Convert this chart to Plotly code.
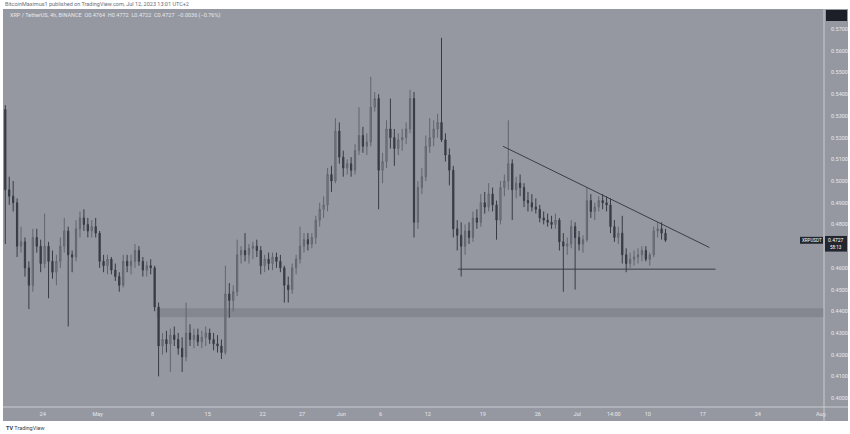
import pandas as pd
import plotly.graph_objects as go

# ---------------- data (12h candles) ----------------
candle_start = "2023-04-19 06:00"
first_open = 0.533
highs = [
    .535, .502, .500, .492, .479, .474, .463, .478, .478, .473,
    .485, .472, .468, .466, .474, .483, .479, .468, .482, .486,
    .487, .483, .482, .483, .477, .466, .466, .465, .462, .458,
    .466, .466, .466, .471, .470, .465, .463, .464, .461, .444,
    .430, .431, .432, .433, .430, .428, .444, .434, .432, .432,
    .431, .433, .432, .430, .429, .427, .461, .453, .452, .473,
    .470, .476, .471, .472, .473, .470, .466, .467, .467, .467,
    .466, .461, .456, .462, .466, .479, .476, .476, .476, .484,
    .490, .493, .506, .507, .529, .527, .514, .510, .511, .517,
    .534, .525, .522, .548, .541, .540, .513, .528, .538, .524,
    .522, .524, .527, .542, .541, .500, .506, .521, .529, .528,
    .531, .566, .522, .515, .507, .482, .481, .480, .481, .486,
    .487, .494, .495, .499, .497, .491, .500, .503, .528, .510,
    .502, .503, .499, .495, .494, .492, .489, .486, .485, .484,
    .485, .483, .476, .474, .482, .481, .477, .475, .497, .494,
    .490, .493, .494, .493, .492, .482, .479, .484, .469, .467,
    .468, .469, .470, .470, .467, .479, .481, .481, .478,
]
lows = [
    .471, .489, .486, .465, .467, .456, .441, .449, .467, .458,
    .460, .446, .455, .452, .460, .467, .433, .458, .463, .474,
    .477, .474, .474, .474, .460, .458, .457, .457, .454, .449,
    .451, .458, .457, .460, .461, .456, .456, .457, .440, .410,
    .420, .421, .412, .424, .420, .412, .417, .424, .423, .424,
    .423, .424, .425, .422, .421, .418, .420, .437, .440, .447,
    .462, .463, .462, .464, .465, .457, .458, .459, .459, .460,
    .458, .444, .444, .448, .457, .462, .467, .468, .469, .471,
    .479, .483, .486, .495, .499, .508, .502, .503, .502, .503,
    .512, .513, .512, .516, .532, .487, .499, .506, .515, .507,
    .512, .514, .517, .522, .474, .478, .494, .500, .513, .516,
    .520, .518, .509, .498, .474, .468, .456, .466, .471, .472,
    .478, .479, .485, .486, .486, .473, .480, .493, .496, .482,
    .492, .493, .488, .486, .486, .485, .481, .480, .479, .478,
    .478, .468, .449, .466, .469, .450, .468, .467, .472, .483,
    .482, .486, .487, .486, .476, .472, .471, .462, .458, .460,
    .461, .462, .463, .463, .461, .465, .474, .473, .472,
]
closes = [
    .496, .493, .490, .470, .472, .460, .452, .474, .470, .462,
    .470, .463, .458, .463, .470, .477, .466, .465, .478, .483,
    .480, .477, .479, .476, .463, .461, .464, .459, .456, .452,
    .463, .461, .463, .468, .463, .459, .461, .460, .442, .424,
    .427, .425, .429, .427, .423, .419, .430, .427, .429, .426,
    .428, .430, .427, .425, .424, .421, .448, .445, .449, .466,
    .468, .466, .469, .470, .468, .461, .464, .462, .465, .463,
    .460, .452, .450, .460, .464, .470, .473, .471, .474, .482,
    .487, .489, .503, .500, .523, .511, .506, .508, .505, .514,
    .521, .516, .518, .534, .538, .505, .509, .524, .520, .515,
    .519, .520, .524, .538, .481, .497, .502, .516, .520, .524,
    .527, .519, .512, .505, .478, .475, .470, .477, .474, .483,
    .481, .490, .488, .494, .489, .482, .497, .500, .508, .496,
    .499, .497, .491, .490, .488, .487, .483, .482, .481, .480,
    .482, .472, .470, .471, .479, .474, .471, .473, .491, .486,
    .488, .491, .490, .489, .479, .474, .476, .466, .462, .464,
    .465, .466, .468, .464, .466, .477, .478, .476, .4727,
]

# drawings on the chart
res_dates = ["2023-06-21 14:00", "2023-07-17 20:00"]
res_prices = [0.5160, 0.4694]
sup_dates = ["2023-06-15 20:00", "2023-07-18 15:00"]
sup_prices = [0.4594, 0.4594]
zone_start = "2023-05-08 12:00"
zone_low, zone_high = 0.4373, 0.4414
last_price = 0.4727

# axis ticks
x_range = ["2023-04-19 02:00", "2023-08-01 10:00"]
y_range = [0.3959, 0.5788]
tick_dates = ["2023-04-24", "2023-05-01", "2023-05-08", "2023-05-15", "2023-05-22",
              "2023-05-27", "2023-06-01", "2023-06-06", "2023-06-12", "2023-06-19",
              "2023-06-26", "2023-07-01", "2023-07-05 16:00", "2023-07-10",
              "2023-07-17", "2023-07-24", "2023-08-01"]
tick_text = ["24", "May", "8", "15", "22", "27", "Jun", "6", "12", "19", "26",
             "Jul", "14:00", "10", "17", "24", "Aug"]
price_ticks = [0.40, 0.41, 0.42, 0.43, 0.44, 0.45, 0.46, 0.48, 0.49,
               0.50, 0.51, 0.52, 0.53, 0.54, 0.55, 0.56, 0.57]

# ---------------- figure ----------------
opens = [first_open] + closes[:-1]
times = pd.date_range(candle_start, periods=len(closes), freq="12h")

BG = "#9598a1"
TXT = "#e6e8ed"
W, H = 850, 434
ML, MR, MT, MB = 4, 26, 10, 27
PW, PH = W - ML - MR, H - MT - MB


def px(x):
    return (x - ML) / PW


def py(y):
    return (H - MB - y) / PH


fig = go.Figure()
fig.add_trace(go.Candlestick(
    x=times, open=opens, high=highs, low=lows, close=closes,
    increasing=dict(line=dict(color="#62656e", width=1), fillcolor="#7e818a"),
    decreasing=dict(line=dict(color="#383b43", width=1), fillcolor="#383b43"),
    whiskerwidth=0, hoverinfo="skip", showlegend=False,
))
fig.add_trace(go.Scatter(x=res_dates, y=res_prices, mode="lines",
                         line=dict(color="#3a3d45", width=1), hoverinfo="skip",
                         showlegend=False))
fig.add_trace(go.Scatter(x=sup_dates, y=sup_prices, mode="lines",
                         line=dict(color="#3a3d45", width=1), hoverinfo="skip",
                         showlegend=False))

shapes = [
    # whole chart panel
    dict(type="rect", xref="paper", yref="paper", x0=px(3), x1=px(848), y0=py(421), y1=py(9),
         fillcolor=BG, line=dict(width=0), layer="below"),
    # support / resistance zone
    dict(type="rect", xref="x", yref="y", x0=zone_start, x1=x_range[1], y0=zone_low, y1=zone_high,
         fillcolor="#84878f", line=dict(width=0), layer="below"),
    # axis separators
    dict(type="line", xref="paper", yref="paper", x0=px(824), x1=px(824), y0=py(421), y1=py(9),
         line=dict(color="#c9cbd1", width=1)),
    dict(type="line", xref="paper", yref="paper", x0=px(3), x1=px(848), y0=py(407), y1=py(407),
         line=dict(color="#c9cbd1", width=1)),
    # top-right dark box
    dict(type="rect", xref="paper", yref="paper", x0=px(826), x1=px(847), y0=py(21), y1=py(10),
         fillcolor="#1c1f27", line=dict(width=0)),
    # symbol label box
    dict(type="rect", xref="paper", yref="y", x0=px(800), x1=px(823),
         y0=last_price - 0.0016, y1=last_price + 0.0016,
         fillcolor="#23262e", line=dict(width=0)),
    # price label box
    dict(type="rect", xref="paper", yref="y", x0=px(825), x1=px(847),
         y0=last_price - 0.0052, y1=last_price + 0.0020,
         fillcolor="#23262e", line=dict(width=0)),
]

annotations = [
    dict(text="BitcoinMaximus1 published on TradingView.com, Jul 12, 2023 13:01 UTC+2",
         xref="paper", yref="paper", x=px(3), y=py(4), xanchor="left", yanchor="middle",
         showarrow=False, font=dict(size=5.5, color="#6a6d75")),
    dict(text="XRP / TetherUS, 4h, BINANCE  O0.4764  H0.4772  L0.4722  C0.4727  −0.0036 (−0.76%)",
         xref="paper", yref="paper", x=px(8), y=py(15.5), xanchor="left", yanchor="middle",
         showarrow=False, font=dict(size=5.5, color=TXT)),
    dict(text="XRPUSDT", xref="paper", yref="y", x=px(811.5), y=last_price,
         xanchor="center", yanchor="middle", showarrow=False,
         font=dict(size=4.5, color="#ffffff")),
    dict(text="0.4727", xref="paper", yref="y", x=px(836), y=last_price + 0.0002,
         xanchor="center", yanchor="middle", showarrow=False,
         font=dict(size=5, color="#ffffff")),
    dict(text="58:13", xref="paper", yref="y", x=px(836), y=last_price - 0.0035,
         xanchor="center", yanchor="middle", showarrow=False,
         font=dict(size=4.5, color="#ffffff")),
    dict(text="<b>TV</b> TradingView", xref="paper", yref="paper", x=px(4), y=py(427.5),
         xanchor="left", yanchor="middle", showarrow=False,
         font=dict(size=5.5, color="#3a3d45")),
]

fig.update_layout(
    width=W, height=H, autosize=False,
    margin=dict(l=ML, r=MR, t=MT, b=MB, pad=0),
    paper_bgcolor="#ffffff", plot_bgcolor=BG,
    font=dict(family="Roboto, DejaVu Sans, sans-serif", size=6, color=TXT),
    shapes=shapes, annotations=annotations,
    showlegend=False,
    boxgap=0.55,
    xaxis=dict(range=x_range, type="date", rangeslider=dict(visible=False),
               showgrid=False, zeroline=False, showline=False, automargin=False,
               tickmode="array", tickvals=tick_dates, ticktext=tick_text,
               ticks="", tickfont=dict(size=5.5, color=TXT), ticklabelstandoff=2),
    yaxis=dict(range=y_range, side="right", showgrid=False, zeroline=False,
               showline=False, automargin=False, tickmode="array", tickvals=price_ticks,
               ticktext=[f"{v:.4f}" for v in price_ticks],
               ticks="", tickfont=dict(size=5.5, color=TXT), ticklabelstandoff=6),
)

fig.write_html(
    "out.html",
    config={"displayModeBar": False},
    post_script="document.body.style.margin='0';document.body.style.padding='0';",
)
